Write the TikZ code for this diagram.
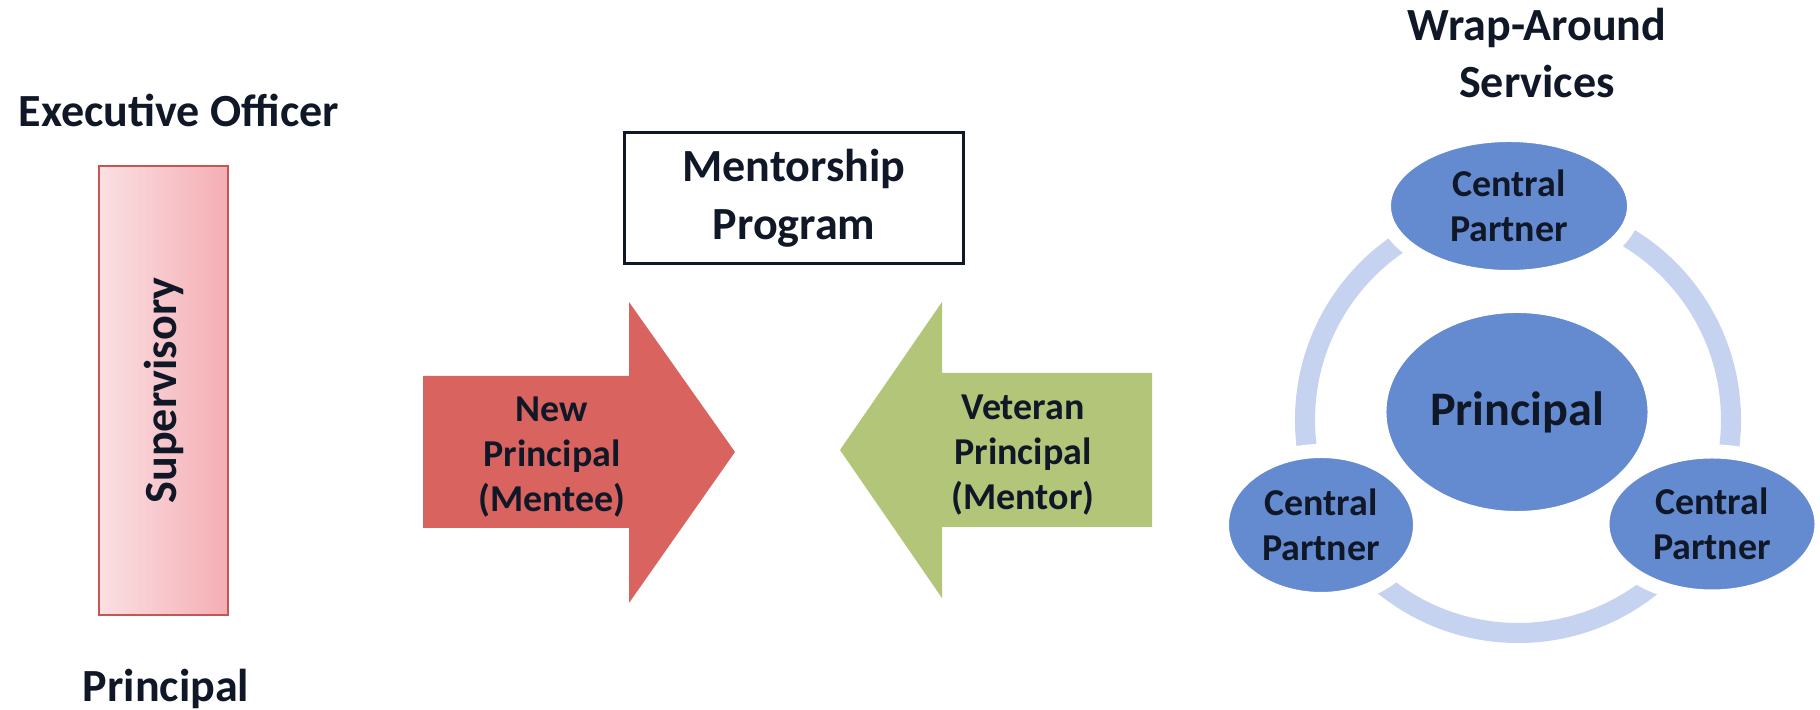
\documentclass[tikz,border=0pt]{standalone}
\usepackage{fontspec}
\setmainfont{Carlito}
\usetikzlibrary{shapes.geometric,positioning}

\definecolor{txt}{RGB}{16,24,40}
\definecolor{supL}{RGB}{250,224,227}
\definecolor{supR}{RGB}{244,174,180}
\definecolor{supB}{RGB}{196,86,84}
\definecolor{menteeRed}{RGB}{217,99,94}
\definecolor{mentorGreen}{RGB}{178,197,120}
\definecolor{partnerBlue}{RGB}{100,138,208}
\definecolor{ringBlue}{RGB}{198,211,240}

\begin{document}
\begin{tikzpicture}[x=0.01cm, y=-0.01cm,
  headtxt/.style={font=\fontsize{13.1}{16.4}\selectfont\bfseries, text=txt, align=center, inner sep=0pt},
  armtxt/.style={font=\fontsize{10.8}{12.9}\selectfont\bfseries, text=txt, align=center, inner sep=0pt},
  partner/.style={ellipse, fill=partnerBlue, draw=white, line width=4pt, armtxt}]
  \useasboundingbox [fill=white] (0,0) rectangle (1820,710);

  \node [headtxt, anchor=base] (exec) at (179,127) {Executive Officer};
  \node [draw=supB, line width=0.6pt, left color=supL, right color=supR, minimum width=1.29cm, minimum height=4.49cm] (sup) at (163.5,390.5) {};
  \node [headtxt, rotate=90] (suplabel) at (sup.center) {Supervisory};
  \node [headtxt, anchor=base] (prin) at (166,702) {Principal};

  \node [headtxt, draw=txt, line width=0.9pt, fill=white, minimum width=3.38cm, minimum height=1.31cm] (mentor) at (794,198) {Mentorship\\Program};
  \fill [menteeRed] (423,376) -- (629,376) -- (629,302) -- (735,452) -- (629,603) -- (629,528) -- (423,528) -- cycle;
  \node [armtxt] (mentee) at (552,457) {New\\Principal\\(Mentee)};
  \fill [mentorGreen] (1152,373) -- (942,373) -- (942,302) -- (840,450) -- (942,598) -- (942,527) -- (1152,527) -- cycle;
  \node [armtxt] (veteran) at (1023,455) {Veteran\\Principal\\(Mentor)};

  \node [headtxt] (wrap) at (1537,53) {Wrap-Around\\Services};
  \draw [ringBlue, line width=5.7pt] (1518,420) circle [radius=213];
  \node [partner, minimum width=2.5cm, minimum height=1.42cm] (cp1) at (1509,206) {Central\\Partner};
  \node [partner, minimum width=1.98cm, minimum height=1.48cm] (cp2) at (1321,525) {Central\\Partner};
  \node [partner, minimum width=2.19cm, minimum height=1.45cm] (cp3) at (1712,524) {Central\\Partner};
  \node [partner, minimum width=2.75cm, minimum height=2.12cm, font=\fontsize{13.7}{16.4}\selectfont\bfseries] (core) at (1517,412) {Principal};
\end{tikzpicture}
\end{document}
